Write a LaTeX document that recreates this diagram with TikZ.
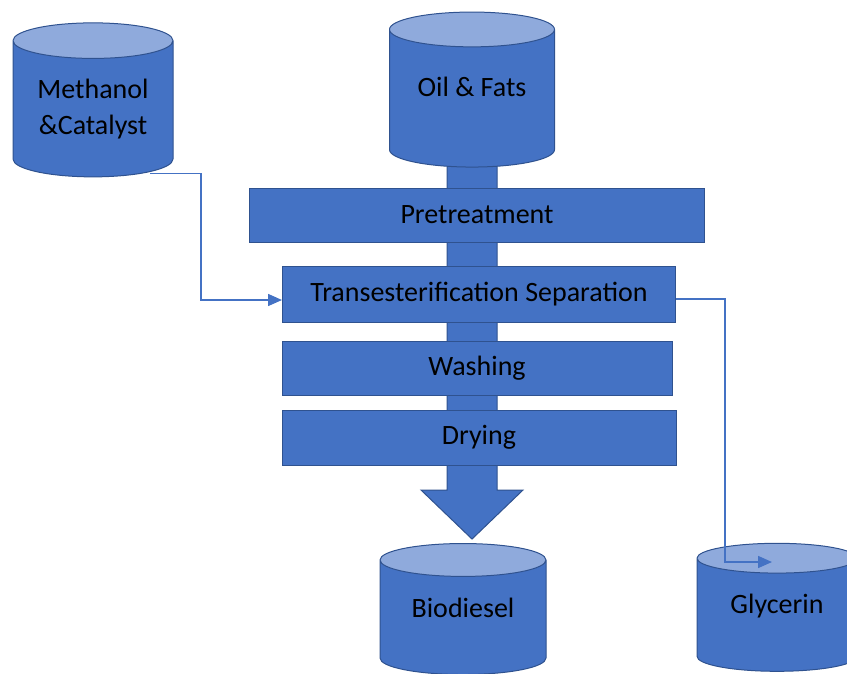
\documentclass[tikz,border=0pt]{standalone}
\usepackage{fontspec}
\setmainfont{Carlito}
\usetikzlibrary{shapes.geometric, positioning, arrows.meta, backgrounds}
\definecolor{procblue}{HTML}{4472C4}
\definecolor{tanktop}{HTML}{8FAADC}
\definecolor{edgeblue}{HTML}{2F528F}

\begin{document}
\begin{tikzpicture}[x=1pt, y=-1pt, >={Triangle[length=14pt,width=12pt]},
    every node/.style={font=\fontsize{28}{36}\selectfont, text=black}]
    \tikzstyle{tank} = [cylinder, shape border rotate=90, aspect=0.32, draw=edgeblue, line width=1pt, cylinder uses custom fill, cylinder body fill=procblue, cylinder end fill=tanktop, align=center, inner sep=0pt]
    \tikzstyle{stage} = [rectangle, draw=edgeblue, line width=1pt, fill=procblue, inner sep=0pt]
    \tikzstyle{flow} = [->, draw=procblue, line width=1.5pt]

    \useasboundingbox (0,0) rectangle (847,673);

    % Feed tanks
    \node [tank, minimum width=160pt, minimum height=154pt] (methanol) at (93,109) {Methanol\\\&Catalyst};
    \node [tank, minimum width=165pt, minimum height=155pt] (oil) at (472,98.5) {\raisebox{24pt}{Oil \& Fats}};

    % Process stages
    \node [stage, minimum width=455pt, minimum height=54pt] (pre) at (477,215) {Pretreatment};
    \node [stage, minimum width=393pt, minimum height=56pt, below=23pt of pre, xshift=2pt] (trans) {Transesterification Separation};
    \node [stage, minimum width=390pt, minimum height=54pt, below=18pt of trans, xshift=-2pt] (wash) {Washing};
    \node [stage, minimum width=394pt, minimum height=55pt, below=14pt of wash, xshift=2pt] (dry) {Drying};

    % Product tanks
    \node [tank, minimum width=166pt, minimum height=131pt] (biodiesel) at (463,617.5) {\raisebox{19pt}{Biodiesel}};
    \node [tank, minimum width=160pt, minimum height=128pt] (glycerin) at (777,615) {\raisebox{22pt}{Glycerin}};

    % Main stream
    \path (oil.center |- biodiesel.north) ++(0,-4) coordinate (tip);
    \begin{scope}[on background layer]
        \filldraw [fill=procblue, draw=edgeblue, line width=1pt] ([xshift=-25pt]oil.center) -- ([xshift=-25pt,yshift=49pt]tip) -- ([xshift=-51pt,yshift=49pt]tip) -- (tip) -- ([xshift=51pt,yshift=49pt]tip) -- ([xshift=25pt,yshift=49pt]tip) -- ([xshift=25pt]oil.center) -- cycle;
    \end{scope}

    % Side streams
    \draw [flow] ([xshift=57pt,yshift=4pt]methanol.bottom) -| ([xshift=-81pt,yshift=-6pt]trans.west) -- ([yshift=-6pt]trans.west);
    \draw [flow] ([yshift=-5pt]trans.east) -| ([xshift=-52pt,yshift=53pt]glycerin.center) -- ([xshift=-5pt,yshift=53pt]glycerin.center);
\end{tikzpicture}
\end{document}
